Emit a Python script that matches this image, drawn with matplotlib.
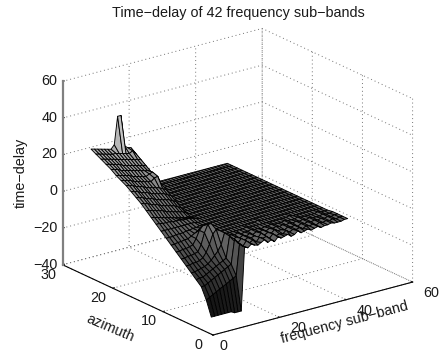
import numpy as np
import matplotlib
matplotlib.use('Agg')
import matplotlib.pyplot as plt
from mpl_toolkits.mplot3d import proj3d

plt.rcParams['font.family'] = ['Liberation Sans', 'DejaVu Sans']

TITLE = 'Time\u2212delay of 42 frequency sub\u2212bands'
XLABEL = 'frequency sub\u2212band'
YLABEL = 'azimuth'
ZLABEL = 'time\u2212delay'
xticks = [0, 20, 40, 60]
yticks = [0, 10, 20, 30]
zticks = [-40, -20, 0, 20, 40, 60]

azimuths = list(range(1, 26))
bands = list(range(1, 43))
# one row per azimuth (1..25), one value per frequency sub-band (1..42)
row01 = [-32,-32,-32,-32,-32,-32,-32,-33,-33,-33,1.5,0.5,2,1,0.5,1.5,2.5,0.5,1.5,0,2,1,1.5,2,0.5,1,2.5,1,1.5,2,1,1.5,2,1,1.5,1.5,2,1.5,1.5,1.5,2,2]
row02 = [-24,-23,-22,-21,-20,-19,-18,-17,-16,-15,2,0,2.5,1,2,0.5,2.5,1.5,2,0.5,2.5,1,1.5,1,2.5,1,2,1.5,2,1,2,1.5,2,1,2,1.5,2,1.5,2,1.5,2,2]
row03 = [-18,-18,-17,-16,-15,-14,-13,-12,-11,-10,3,0.5,2.5,1,2,1.5,2,0.5,2.5,1,2,1,2.5,1.5,1.5,1,2,1.5,2,1,2,1.5,2,1.5,2,1.5,2,1.5,2,1.5,2,2]
row04 = [-15.5,-15,-15,-14,-13,-12,-11,-10,-9,-8,3.5,1,2,1,2,1,2,1,2,1.5,2,1,2,1.5,2,1.5,2,1.5,2,1.5,2,1.5,2,1.5,2,1.5,1.5,1.5,2,1.5,1.5,2]
row05 = [-13,-13,-12.5,-12,-11.5,-10.5,-9,-7,-5,-2,4,1.5,2,1.5,2,1,1.5,1.5,2,1.5,1.5,1,1.5,1.5,2,1.5,1.5,1.5,2,1.5,1.5,1.5,2,1.5,1.5,1.5,1.5,1.5,2,1.5,1.5,1.5]
row06 = [-10.5,-10.5,-10,-10,-9.5,-8.5,-6,-2,3,5,4,2,1.5,1.5,1.5,1.5,1.5,1.5,2,1.5,1.5,1.5,1.5,1.5,1.5,1.5,1.5,1.5,1.5,1.5,1.5,2,1.5,1.5,1.5,1.5,1.5,1.5,1.5,1.5,1.5,1.5]
row07 = [-8,-8,-7.5,-7.5,-7,-6.5,-3,3,7,7,4,2,1.5,1.5,1.5,1.5,1.5,1.5,1.5,1.5,1.5,1.5,1.5,2,1.5,1.5,1.5,1.5,1.5,1.5,1.5,1.5,1.5,1.5,1.5,1.5,1.5,1.5,1.5,1.5,1.5,1.5]
row08 = [-5.5,-5.5,-5,-5,-4.5,-4,-1,3,5,5,3,1.5,1.5,1.5,1.5,1.5,1.5,1.5,1.5,1.5,1.5,1.5,1.5,1.5,1.5,1.5,1.5,1.5,1.5,1.5,1.5,1.5,1.5,1.5,1.5,1.5,1.5,1.5,1.5,1.5,1.5,1.5]
row09 = [-3,-3,-2.5,-2.5,-2,-2,-1,0,1,2,2,1.5,1.5,1.5,1.5,1.5,1.5,1.5,1.5,1.5,1.5,1.5,1.5,1.5,1.5,1.5,1.5,1.5,1.5,1.5,1.5,1.5,1.5,1.5,1.5,1.5,1.5,1.5,1.5,1.5,1.5,1.5]
row10 = [-0.5,-0.5,-0.5,0,0,0,0.5,0.5,1,1,1.5,1.5,1.5,1.5,1.5,1.5,1.5,1.5,1.5,1.5,1.5,1.5,1.5,1.5,1.5,1.5,1.5,1.5,1.5,1.5,1.5,1.5,1.5,1.5,1.5,1.5,1.5,1.5,1.5,1.5,1.5,1.5]
row11 = [2,2,2,2,2,2,2,2,2,2,2,1.5,1.5,1.5,1.5,1.5,1.5,1.5,1.5,1.5,1.5,1.5,1.5,1.5,1.5,1.5,1.5,1.5,1.5,1.5,1.5,1.5,1.5,1.5,1.5,1.5,1.5,1.5,1.5,1.5,1.5,1.5]
row12 = [4.5,4.5,4,4,4,3.5,3.5,3.5,3,3,3,2.5,2,1.5,1.5,1.5,1.5,1.5,1.5,1.5,1.5,1.5,1.5,1.5,1.5,1.5,1.5,1.5,1.5,1.5,1.5,1.5,1.5,1.5,1.5,1.5,1.5,1.5,1.5,1.5,1.5,1.5]
row13 = [7,6.5,6,5.5,5,4.5,4,3.5,3,2.5,2,2,1.5,1.5,1.5,1.5,1.5,1.5,1.5,1.5,1.5,1.5,1.5,1.5,1.5,1.5,1.5,1.5,1.5,1.5,1.5,1.5,1.5,1.5,1.5,1.5,1.5,1.5,1.5,1.5,1.5,1.5]
row14 = [9.5,9,8.5,8,7.5,7,6,5.5,5,4.5,4,3.5,2.5,1.5,1.5,1.5,1.5,1.5,1.5,1.5,1.5,1.5,1.5,1.5,1.5,1.5,1.5,1.5,1.5,1.5,1.5,1.5,1.5,1.5,1.5,1.5,1.5,1.5,1.5,1.5,1.5,1.5]
row15 = [12,11.5,11,10,9.5,9,8,7.5,7,6.5,6,5,4,1.5,1.5,1.5,1.5,1.5,1.5,1.5,1.5,1.5,1.5,1.5,1.5,1.5,1.5,1.5,1.5,1.5,1.5,1.5,1.5,1.5,1.5,1.5,1.5,1.5,1.5,1.5,1.5,1.5]
row16 = [14,13.5,13,12,11.5,11,10,9.5,9,8.5,8,7,6,1.5,1.5,1.5,1.5,1.5,1.5,1.5,1.5,1.5,1.5,1.5,1.5,1.5,1.5,1.5,1.5,1.5,1.5,1.5,1.5,1.5,1.5,1.5,1.5,1.5,1.5,1.5,1.5,1.5]
row17 = [16,15.5,15,14,13.5,13,12,11.5,11,10.5,10,9,8,1.5,1.5,1.5,1.5,1.5,1.5,1.5,1.5,1.5,1.5,1.5,1.5,1.5,1.5,1.5,1.5,1.5,1.5,1.5,1.5,1.5,1.5,1.5,1.5,1.5,1.5,1.5,1.5,1.5]
row18 = [18,17.5,17,16,15.5,15,14,13.5,13,12.5,12,11,10,1.5,1.5,1.5,1.5,1.5,1.5,1.5,1.5,1.5,1.5,1.5,1.5,1.5,1.5,1.5,1.5,1.5,1.5,1.5,1.5,1.5,1.5,1.5,1.5,1.5,1.5,1.5,1.5,1.5]
row19 = [19.5,19,18.5,18,17,16.5,16,15.5,15,14.5,16,16.5,12,1.5,1.5,1.5,1.5,1.5,1.5,1.5,1.5,1.5,1.5,1.5,1.5,1.5,1.5,1.5,1.5,1.5,1.5,1.5,1.5,1.5,1.5,1.5,1.5,1.5,1.5,1.5,1.5,1.5]
row20 = [21,20.5,20,19.5,19,18,17.5,17,16.5,16,17,17.5,14,1.5,1.5,1.5,1.5,1.5,1.5,1.5,1.5,1.5,1.5,1.5,1.5,1.5,1.5,1.5,1.5,1.5,1.5,1.5,1.5,1.5,1.5,1.5,1.5,1.5,1.5,1.5,1.5,1.5]
row21 = [23,22.5,22,21,20.5,20,19.5,19,18.5,18,17.5,17,16,1.5,1.5,1.5,1.5,1.5,1.5,1.5,1.5,1.5,1.5,1.5,1.5,1.5,1.5,1.5,1.5,1.5,1.5,1.5,1.5,1.5,1.5,1.5,1.5,1.5,1.5,1.5,1.5,1.5]
row22 = [24.5,24,23.5,23,22.5,21.5,21,20.5,20,19.5,19,18.5,18,1.5,1.5,1.5,1.5,1.5,1.5,1.5,1.5,1.5,1.5,1.5,1.5,1.5,1.5,1.5,1.5,1.5,1.5,1.5,1.5,1.5,1.5,1.5,1.5,1.5,1.5,1.5,1.5,1.5]
row23 = [26,25.5,25,24.5,24,23.5,23,22.5,22,21.5,21,20.5,20,1.5,1.5,1.5,1.5,1.5,1.5,1.5,1.5,1.5,1.5,1.5,1.5,1.5,1.5,1.5,1.5,1.5,1.5,1.5,1.5,1.5,1.5,1.5,1.5,1.5,1.5,1.5,1.5,1.5]
row24 = [27.5,27,26.5,26,25.5,25,25,24.5,24,23.5,23,24,22,1.5,1.5,1.5,1.5,1.5,1.5,1.5,1.5,1.5,1.5,1.5,1.5,1.5,1.5,1.5,1.5,1.5,1.5,1.5,1.5,1.5,1.5,1.5,1.5,1.5,1.5,1.5,1.5,1.5]
row25 = [29,28.5,28,27.5,27,26.5,26,28,43,43,26,24.5,24,1.5,1.5,1.5,1.5,1.5,1.5,1.5,1.5,1.5,1.5,1.5,1.5,1.5,1.5,1.5,1.5,1.5,1.5,1.5,1.5,1.5,1.5,1.5,1.5,1.5,1.5,1.5,1.5,1.5]
rows = [row01,row02,row03,row04,row05,row06,row07,row08,row09,row10,row11,row12,row13,
        row14,row15,row16,row17,row18,row19,row20,row21,row22,row23,row24,row25]

W, H = 440, 358
fig = plt.figure(figsize=(W/100, H/100), dpi=100)
ax = fig.add_axes([0.1, 0.1, 0.8, 0.8], projection='3d', proj_type='ortho')
ax.view_init(elev=20.6, azim=-127)
ax.set_box_aspect((250, 250, 196), zoom=1.0)
ax.set_xlim(0, 60, view_margin=0)
ax.set_ylim(0, 30, view_margin=0)
ax.set_zlim(-40, 60, view_margin=0)

X, Y = np.meshgrid(bands, azimuths)
Z = np.array(rows, dtype=float)
ax.plot_surface(X, Y, Z, rstride=1, cstride=1, cmap='gray', vmin=-35, vmax=55,
                edgecolor='k', linewidth=0.65, shade=False, antialiased=True)

FS = 10.4
ax.set_xticks(xticks); ax.set_yticks(yticks); ax.set_zticks(zticks)
for axis in (ax.xaxis, ax.yaxis, ax.zaxis):
    axis.set_pane_color((1, 1, 1, 0))
    axis.pane.set_edgecolor('none')
    axis._axinfo['grid'].update(color='0.45', linestyle=(0, (1, 3)), linewidth=0.7)
    axis._axinfo['tick'].update(inward_factor=0.0, outward_factor=0.1)
    axis.line.set_color('k'); axis.line.set_linewidth(0.8)
ax.zaxis.line.set_color('none')
ax.plot(xticks[:1] * 2, yticks[-1:] * 2, [zticks[0], zticks[-1]], color='0.5', lw=1.6, zorder=0)
ax.tick_params(labelsize=FS, colors='0.1', pad=2.5)
ax.tick_params(axis='z', pad=-5.8)

def corner_px(x, y, z):
    u, v, _ = proj3d.proj_transform(x, y, z, ax.get_proj())
    return ax.transData.transform((u, v))
for _ in range(3):
    fig.canvas.draw()
    a = corner_px(0, 0, -40); b = corner_px(60, 0, -40)
    c = corner_px(0, 30, -40)
    s = (413 - 63) / (b[0] - c[0])
    p = ax.get_position()
    w, h = p.width * W * s, p.height * H * s
    cx = (p.x0 + p.width/2) * W; cy = (p.y0 + p.height/2) * H
    tx = 213 - (cx + (a[0] - cx) * s)
    ty = (H - 335) - (cy + (a[1] - cy) * s)
    ax.set_position([(cx + tx - w/2)/W, (cy + ty - h/2)/H, w/W, h/H])

# tick-label anchoring that lands them on the reference's spots
for i, tick in enumerate(ax.xaxis.get_major_ticks()):
    tick.label1.set_va('bottom'); tick.label1.set_ha('left' if i else 'center')
for tick in ax.yaxis.get_major_ticks():
    tick.label1.set_va('bottom'); tick.label1.set_ha('center')
for tick in ax.zaxis.get_major_ticks():
    tick.label1.set_va('center'); tick.label1.set_ha('right')

fig.suptitle(TITLE, x=238/W, y=1-13/H, fontsize=FS, color='0.1', va='center', ha='center')
fig.text(21/W, 1-173/H, ZLABEL, rotation=90, fontsize=FS, color='0.1', ha='center', va='center')
fig.text(110/W, 1-328/H, YLABEL, rotation=-23, fontsize=FS, color='0.1', ha='center', va='center', rotation_mode='anchor')
fig.text(345/W, 1-323/H, XLABEL, rotation=14.8, fontsize=FS, color='0.1', ha='center', va='center', rotation_mode='anchor')
fig.savefig('out.png', dpi=100)
